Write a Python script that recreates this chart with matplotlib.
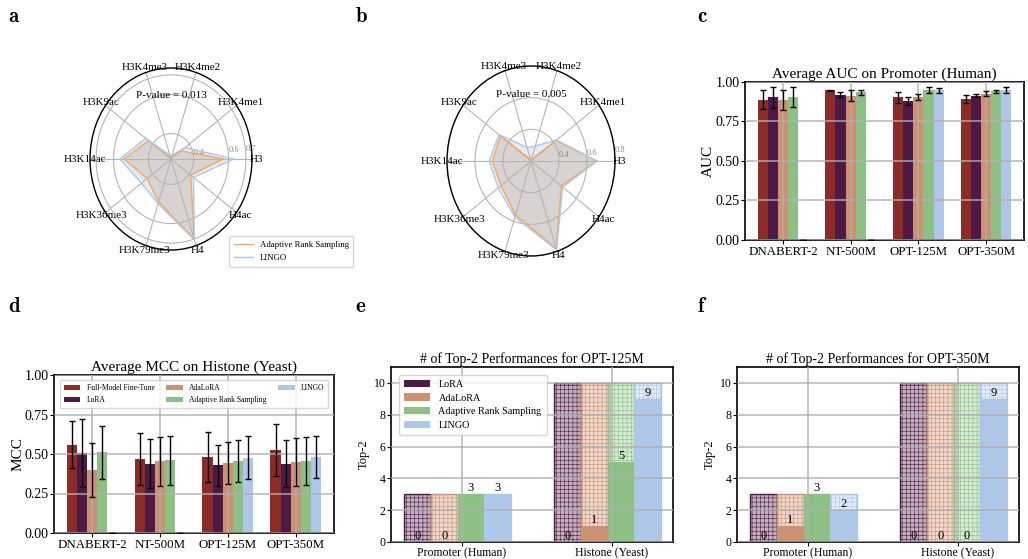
import numpy as np
import matplotlib
matplotlib.use('Agg')
import matplotlib.pyplot as plt
from matplotlib.colors import to_rgba

plt.rcParams['font.family'] = ['Liberation Serif', 'DejaVu Serif']
plt.rcParams['mathtext.fontset'] = 'cm'
plt.rcParams['hatch.linewidth'] = 0.4

# ---- data ----
marks = ['H3', 'H3K4me1', 'H3K4me2', 'H3K4me3', 'H3K9ac',
         'H3K14ac', 'H3K36me3', 'H3K79me3', 'H4', 'H4ac']
radar_a_ars = [0.57, 0.34, 0.28, 0.28, 0.43, 0.54, 0.44, 0.50, 0.70, 0.41]
radar_a_lingo = [0.63, 0.37, 0.29, 0.29, 0.45, 0.563, 0.48, 0.51, 0.705, 0.43]
radar_b_ars = [0.67, 0.42, 0.21, 0.21, 0.47, 0.476, 0.465, 0.558, 0.783, 0.468]
radar_b_lingo = [0.672, 0.425, 0.30, 0.29, 0.484, 0.498, 0.49, 0.572, 0.79, 0.48]

models = ['DNABERT-2', 'NT-500M', 'OPT-125M', 'OPT-350M']
methods = ['Full-Model Fine-Tune', 'LoRA', 'AdaLoRA', 'Adaptive Rank Sampling', 'LINGO']
colors = ['#8b2d26', '#4e1a45', '#cd9071', '#8cc084', '#aec7e8']

# AUC on promoter (human), rows = methods
auc_mean = [[0.888, 0.947, 0.903, 0.894],
            [0.903, 0.920, 0.882, 0.913],
            [0.888, 0.913, 0.905, 0.926],
            [0.903, 0.934, 0.951, 0.941],
            [0.0, 0.0, 0.947, 0.951]]
auc_err = [[0.060, 0.003, 0.035, 0.026],
           [0.065, 0.018, 0.026, 0.011],
           [0.063, 0.035, 0.021, 0.016],
           [0.063, 0.015, 0.018, 0.011],
           [0.0, 0.0, 0.018, 0.019]]

# MCC on histone (yeast)
mcc_mean = [[0.56, 0.47, 0.48, 0.524],
            [0.505, 0.437, 0.428, 0.439],
            [0.40, 0.455, 0.444, 0.449],
            [0.51, 0.46, 0.453, 0.455],
            [0.0, 0.0, 0.476, 0.48]]
mcc_err = [[0.15, 0.165, 0.158, 0.166],
           [0.215, 0.155, 0.13, 0.15],
           [0.17, 0.155, 0.135, 0.153],
           [0.17, 0.157, 0.133, 0.15],
           [0.0, 0.0, 0.135, 0.135]]

tasks = ['Promoter (Human)', 'Histone (Yeast)']
task_total = [3, 10]
top_methods = ['LoRA', 'AdaLoRA', 'Adaptive Rank Sampling', 'LINGO']
top_colors = ['#4e1a45', '#cd9071', '#8cc084', '#aec7e8']
top2_125 = [[0, 0], [0, 1], [3, 5], [3, 9]]
top2_350 = [[0, 0], [1, 0], [3, 0], [2, 9]]

W, H = 1028, 559
fig = plt.figure(figsize=(W / 100, H / 100), dpi=100)


def rect(x0, y0, x1, y1):
    return [x0 / W, 1 - y1 / H, (x1 - x0) / W, (y1 - y0) / H]


def radar(r, ars, lingo, rlim, rticks, pval, legend=False):
    ax = fig.add_axes(r, projection='polar')
    ax.set_aspect('auto')
    ang = np.linspace(0, 2 * np.pi, len(marks), endpoint=False)
    a = np.append(ang, ang[0])
    vl = np.append(lingo, lingo[0])
    va = np.append(ars, ars[0])
    ax.fill(a, vl, color='#aec7e8', alpha=0.35, lw=0)
    ax.fill(a, va, color='#b87a4c', alpha=0.22, lw=0)
    ax.plot(a, va, color='#f5a95a', lw=1, label='Adaptive Rank Sampling')
    ax.plot(a, vl, color='#aec7e8', lw=1, label='LINGO')
    ax.set_ylim(*rlim)
    ax.set_yticks(rticks)
    ax.set_yticklabels([str(t) for t in rticks], fontsize=6, color='#888888')
    ax.set_rlabel_position(4)
    ax.set_xticks(ang)
    ax.set_xticklabels(marks, fontsize=8)
    ax.tick_params(axis='x', pad=-7)
    ax.grid(color='#b5b5b5', lw=0.8)
    ax.spines['polar'].set_linewidth(1.0)
    ax.text(0.5, 0.85, pval, transform=ax.transAxes, ha='center', va='center', fontsize=8)
    if legend:
        ax.legend(loc='upper left', bbox_to_anchor=(225 / W, 1 - 232 / H),
                  bbox_transform=fig.transFigure, fontsize=6.3, handlelength=2.2,
                  borderpad=0.5, labelspacing=0.6)
    return ax


radar(rect(90, 68, 252, 250), radar_a_ars, radar_a_lingo, (0.27, 0.735),
      [0.4, 0.6, 0.7], 'P-value = 0.013', legend=True)
radar(rect(447, 66, 615, 256), radar_b_ars, radar_b_lingo, (0.2, 0.8),
      [0.4, 0.6, 0.8], 'P-value = 0.005')


def bar_panel(ax, mean, err, title, ylabel, legend=False):
    x = np.arange(len(models))
    w = 0.15
    for i, (m, c) in enumerate(zip(methods, colors)):
        ax.bar(x + (i - 2) * w, mean[i], w, color=c, label=m, zorder=1)
        ax.errorbar(x + (i - 2) * w, mean[i], yerr=err[i], fmt='none',
                    ecolor='black', capsize=2, elinewidth=1, capthick=1, zorder=3)
    ax.set_xticks(x)
    ax.set_xticklabels(models, fontsize=9.3)
    ax.set_xlim(-0.56, 3.56)
    ax.set_ylim(0, 1.0)
    ax.set_yticks([0, 0.25, 0.5, 0.75, 1.0])
    ax.set_yticklabels(['0.00', '0.25', '0.50', '0.75', '1.00'], fontsize=10)
    ax.grid(True, color='#b0b0b0', lw=1.2, alpha=0.85, zorder=2)
    ax.set_axisbelow(False)
    ax.set_title(title, fontsize=11, pad=3)
    ax.set_ylabel(ylabel, fontsize=11, labelpad=0)
    for s in ax.spines.values():
        s.set_linewidth(1.2)
    ax.tick_params(length=3, pad=1)
    if legend:
        ax.legend(loc='upper center', ncol=3, fontsize=5.5, frameon=True,
                  handlelength=2.2, columnspacing=1.5, borderpad=0.5,
                  bbox_to_anchor=(0.5, 0.99))


ax_c = fig.add_axes(rect(745, 82, 1024, 240))
bar_panel(ax_c, auc_mean, auc_err, 'Average AUC on Promoter (Human)', 'AUC')
ax_d = fig.add_axes(rect(54, 375, 334, 533))
bar_panel(ax_d, mcc_mean, mcc_err, 'Average MCC on Histone (Yeast)', 'MCC', legend=True)


def top2_panel(ax, counts, title, legend=False):
    x = np.arange(len(tasks))
    w = 0.178
    for i, (m, c) in enumerate(zip(top_methods, top_colors)):
        xs = x - 0.293 + i * w
        ax.bar(xs, task_total, w, facecolor=to_rgba(c, 0.35), edgecolor=c,
               hatch='++++', lw=1, zorder=1)
        ax.bar(xs, counts[i], w, color=c, label=m, zorder=1.5)
        for xi, v in zip(xs, counts[i]):
            ax.text(xi, v + 0.02, str(v), ha='center', va='bottom', fontsize=9, zorder=4)
    ax.set_xticks(x)
    ax.set_xticklabels(tasks, fontsize=8.5)
    ax.set_xlim(-0.47, 1.41)
    ax.set_ylim(0, 11)
    ax.set_yticks([0, 2, 4, 6, 8, 10])
    ax.tick_params(labelsize=8.5, length=3, pad=1)
    ax.grid(True, color='#b0b0b0', lw=1.2, alpha=0.85, zorder=2)
    ax.set_axisbelow(False)
    ax.set_title(title, fontsize=10, pad=3)
    ax.set_ylabel('Top-2', fontsize=9, labelpad=3)
    for s in ax.spines.values():
        s.set_linewidth(1.2)
    if legend:
        ax.legend(loc='upper left', fontsize=7.3, handlelength=2.6,
                  borderpad=0.5, labelspacing=0.45, bbox_to_anchor=(0.01, 0.985))


ax_e = fig.add_axes(rect(391, 367, 673, 542))
top2_panel(ax_e, top2_125, '# of Top-2 Performances for OPT-125M', legend=True)
ax_f = fig.add_axes(rect(737, 367, 1019, 542))
top2_panel(ax_f, top2_350, '# of Top-2 Performances for OPT-350M')

for lab, px, py in [('a', 8, 8), ('b', 355, 8), ('c', 697, 8),
                    ('d', 8, 298), ('e', 355, 298), ('f', 697, 298)]:
    fig.text(px / W, 1 - py / H, r'$\mathbf{%s}$' % lab, fontsize=15, ha='left', va='top')

fig.savefig('out.png', dpi=100)
